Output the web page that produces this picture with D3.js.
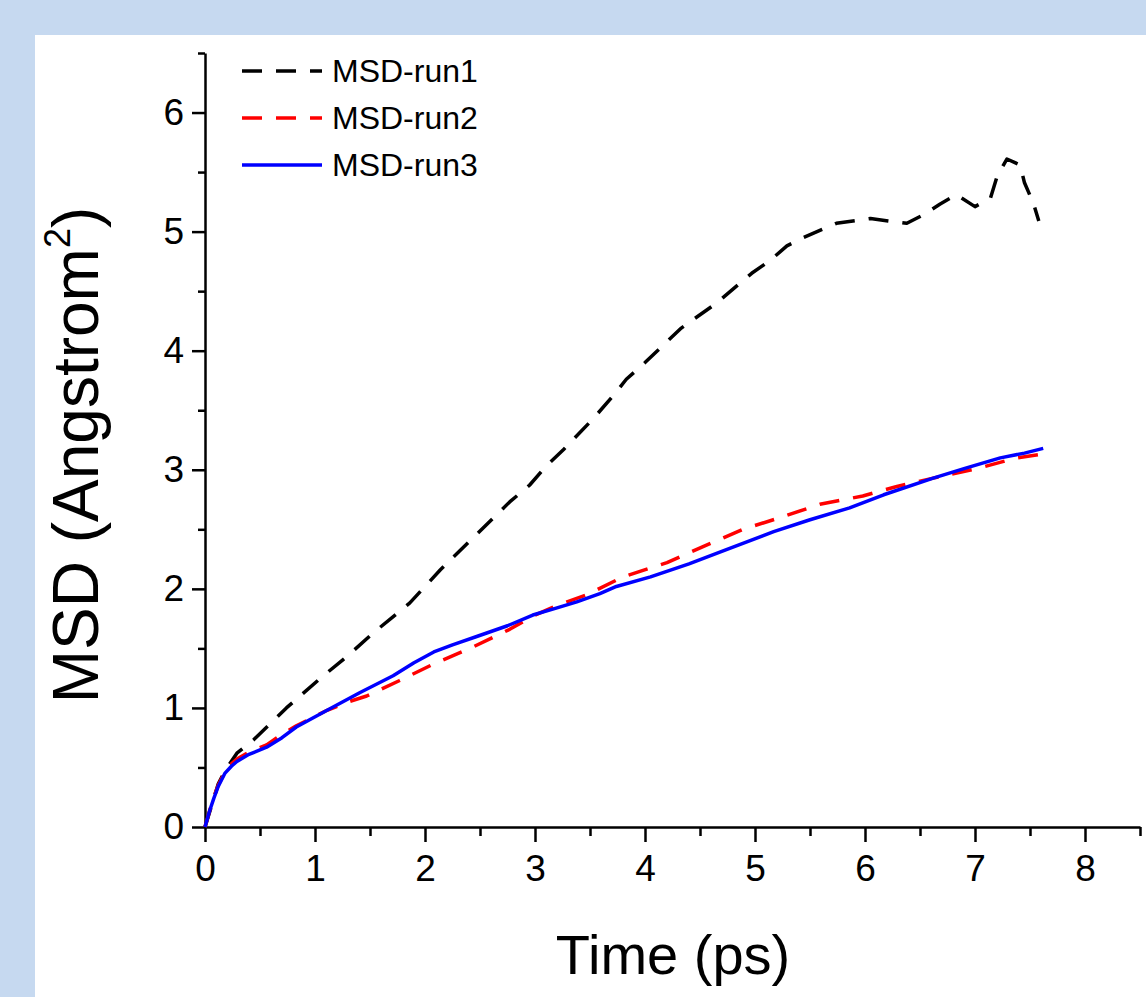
<!DOCTYPE html>
<html>
<head>
<meta charset="utf-8">
<script src="https://cdn.jsdelivr.net/npm/d3@7"></script>
<style>
  html, body { margin: 0; padding: 0; background: #c6d9f0; }
  svg { display: block; font-family: "Liberation Sans", Arial, sans-serif; }
</style>
</head>
<body>
<svg id="chart"></svg>
<script>
// data
const timeRun1 = [0, 0.06, 0.12, 0.18, 0.29, 0.44, 0.74, 1.05, 1.3, 1.53, 1.86, 2.14, 2.45, 2.77, 2.95, 3.1, 3.26, 3.53, 3.7, 3.83, 4.0, 4.33, 4.65, 4.97, 5.14, 5.29, 5.44, 5.74, 6.05, 6.21, 6.38, 6.53, 6.68, 6.83, 7.0, 7.14, 7.2, 7.29, 7.41, 7.45, 7.53, 7.58];
const msdRun1  = [0, 0.18, 0.36, 0.47, 0.62, 0.73, 1.0, 1.25, 1.44, 1.63, 1.88, 2.16, 2.44, 2.73, 2.87, 3.03, 3.17, 3.43, 3.61, 3.76, 3.9, 4.19, 4.4, 4.65, 4.76, 4.88, 4.95, 5.07, 5.11, 5.09, 5.07, 5.14, 5.23, 5.31, 5.21, 5.28, 5.46, 5.61, 5.56, 5.41, 5.24, 5.09];

const timeRun2 = [0, 0.04, 0.08, 0.12, 0.18, 0.24, 0.29, 0.4, 0.56, 0.7, 0.83, 1.11, 1.3, 1.47, 1.77, 2.08, 2.41, 2.77, 3.0, 3.2, 3.47, 3.8, 4.2, 4.59, 4.89, 5.2, 5.59, 5.98, 6.29, 6.62, 7.02, 7.38, 7.6];
const msdRun2  = [0, 0.13, 0.25, 0.35, 0.46, 0.53, 0.57, 0.63, 0.69, 0.78, 0.85, 0.98, 1.05, 1.1, 1.23, 1.37, 1.5, 1.66, 1.78, 1.86, 1.95, 2.1, 2.22, 2.38, 2.5, 2.59, 2.71, 2.78, 2.86, 2.93, 3.01, 3.1, 3.13];

const timeRun3 = [0, 0.04, 0.08, 0.12, 0.18, 0.24, 0.29, 0.4, 0.56, 0.7, 0.83, 1.11, 1.41, 1.71, 1.9, 2.08, 2.25, 2.47, 2.75, 2.98, 3.2, 3.38, 3.59, 3.74, 4.05, 4.4, 4.74, 5.17, 5.5, 5.86, 6.17, 6.62, 6.9, 7.23, 7.45, 7.62];
const msdRun3  = [0, 0.13, 0.24, 0.34, 0.45, 0.51, 0.55, 0.61, 0.67, 0.75, 0.84, 0.98, 1.13, 1.27, 1.38, 1.47, 1.53, 1.6, 1.69, 1.78, 1.84, 1.89, 1.96, 2.02, 2.1, 2.21, 2.33, 2.48, 2.58, 2.68, 2.79, 2.93, 3.01, 3.1, 3.14, 3.18];

const seriesNames = ["MSD-run1", "MSD-run2", "MSD-run3"];
const xTicks = [0, 1, 2, 3, 4, 5, 6, 7, 8];
const yTicks = [0, 1, 2, 3, 4, 5, 6];

const width = 1146, height = 997;

const series = [
  { name: seriesNames[0], t: timeRun1, v: msdRun1, color: "#000000", dash: "20,14" },
  { name: seriesNames[1], t: timeRun2, v: msdRun2, color: "#ff0000", dash: "20,14" },
  { name: seriesNames[2], t: timeRun3, v: msdRun3, color: "#0000ff", dash: null }
];

const svg = d3.select("#chart")
    .attr("width", width)
    .attr("height", height);

// white panel
svg.append("rect")
    .attr("x", 35).attr("y", 35)
    .attr("width", width - 35).attr("height", height - 35)
    .attr("fill", "#ffffff");

const x = d3.scaleLinear().domain([0, 8.5]).range([205, 1140]);
const y = d3.scaleLinear().domain([0, 6.5]).range([827, 53]);

// minor ticks
svg.append("g")
    .attr("transform", "translate(0,827)")
    .call(d3.axisBottom(x).tickValues(d3.range(0.5, 8.51, 1)).tickSize(9).tickSizeOuter(0).tickFormat(""))
    .call(g => g.select(".domain").remove());
svg.append("g")
    .attr("transform", "translate(205,0)")
    .call(d3.axisLeft(y).tickValues(d3.range(0.5, 6.51, 1)).tickSize(7).tickSizeOuter(0).tickFormat(""))
    .call(g => g.select(".domain").remove());

// x axis
svg.append("g")
    .attr("transform", "translate(0,827)")
    .call(d3.axisBottom(x).tickValues(xTicks).tickFormat(d3.format("d")).tickSize(15).tickSizeOuter(0).tickPadding(13));

// y axis
svg.append("g")
    .attr("transform", "translate(205,0)")
    .call(d3.axisLeft(y).tickValues(yTicks).tickFormat(d3.format("d")).tickSize(13).tickSizeOuter(0).tickPadding(8));

svg.selectAll(".tick line").attr("stroke", "#000").attr("stroke-width", 2.5);
svg.selectAll(".domain").attr("stroke", "#000").attr("stroke-width", 2.5);
svg.selectAll(".tick text")
    .attr("fill", "#000")
    .style("font-family", "'Liberation Sans', Arial, sans-serif")
    .style("font-size", "37px");

// lines
const line = d3.line()
    .x(d => x(d[0]))
    .y(d => y(d[1]));

series.forEach(s => {
    svg.append("path")
        .datum(s.t.map((t, i) => [t, s.v[i]]))
        .attr("d", line)
        .attr("fill", "none")
        .attr("stroke", s.color)
        .attr("stroke-width", 3.5)
        .attr("stroke-dasharray", s.dash)
        .attr("stroke-linejoin", "round");
});

// axis titles
svg.append("text")
    .attr("x", 673).attr("y", 974)
    .attr("text-anchor", "middle")
    .style("font-size", "56px")
    .text("Time (ps)");

const yTitle = svg.append("text")
    .attr("transform", "translate(98,455) rotate(-90)")
    .attr("text-anchor", "middle")
    .style("font-size", "64px");
yTitle.append("tspan").text("MSD (Angstrom");
yTitle.append("tspan").attr("dy", -28).style("font-size", "36px").text("2");
yTitle.append("tspan").attr("dy", 28).text(")");

// legend
const legend = svg.append("g");
series.forEach((s, i) => {
    const ly = 71 + i * 47;
    legend.append("line")
        .attr("x1", 242).attr("x2", 322)
        .attr("y1", ly).attr("y2", ly)
        .attr("stroke", s.color)
        .attr("stroke-width", 3.5)
        .attr("stroke-dasharray", s.dash);
    legend.append("text")
        .attr("x", 332).attr("y", ly + 11)
        .style("font-size", "32px")
        .text(s.name);
});
</script>
</body>
</html>
